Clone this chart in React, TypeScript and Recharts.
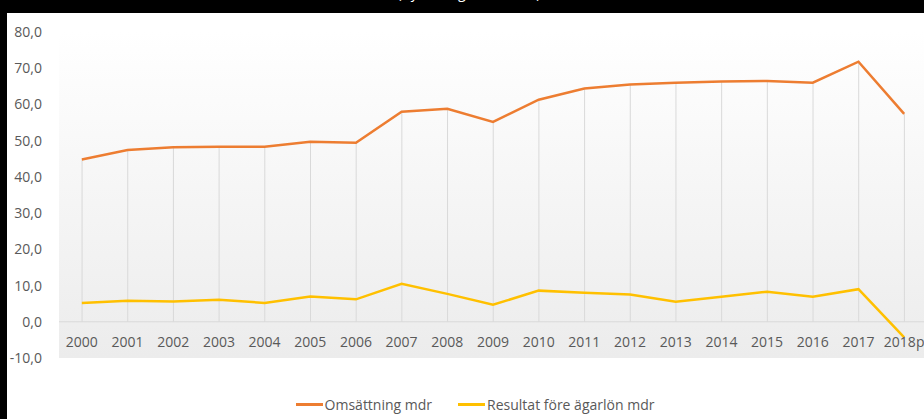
import { ComposedChart, Line, Bar, XAxis, YAxis, Legend, ReferenceLine, CartesianGrid } from "recharts";

const years = ["2000", "2001", "2002", "2003", "2004", "2005", "2006", "2007", "2008", "2009", "2010", "2011", "2012", "2013", "2014", "2015", "2016", "2017", "2018p"];
const omsattning = [44.8, 47.4, 48.2, 48.3, 48.3, 49.7, 49.4, 58.0, 58.8, 55.2, 61.3, 64.4, 65.5, 66.0, 66.3, 66.5, 66.0, 71.8, 57.4];
const resultat = [5.2, 5.8, 5.6, 6.1, 5.2, 7.0, 6.2, 10.5, 7.7, 4.7, 8.6, 8.0, 7.5, 5.5, 6.9, 8.3, 6.9, 9.0, -4.3];
const yTicks = [-10, 0, 10, 20, 30, 40, 50, 60, 70, 80];

const data = years.map((year, i) => ({ year, omsattning: omsattning[i], resultat: resultat[i] }));

const FONT = "'Open Sans', sans-serif";
const GREY = "#595959";

const DropLine = (props: any) => {
  const { x, y, width, height } = props;
  const cx = x + width / 2;
  return <line x1={cx} x2={cx} y1={y} y2={y + height} stroke="#d9d9d9" strokeWidth={1} />;
};

const XTick = (props: any) => {
  const { x, y, payload } = props;
  return (
    <text x={x} y={y - 11.5} textAnchor="middle" fill={GREY} fontSize={14} fontFamily={FONT}>
      {payload.value}
    </text>
  );
};

const LegendContent = (props: any) => {
  const items = (props.payload || []).filter((p: any) => p.type !== "none");
  return (
    <div style={{ display: "flex", justifyContent: "center", paddingLeft: 49, fontFamily: FONT, fontSize: 14, color: GREY }}>
      {items.map((p: any) => (
        <div key={p.value} style={{ display: "flex", alignItems: "center", marginRight: 26 }}>
          <span style={{ display: "inline-block", width: 27, height: 2.5, background: p.color, marginRight: 2 }} />
          <span>{p.value}</span>
        </div>
      ))}
    </div>
  );
};

export default function App() {
  return (
    <div style={{ position: "relative", width: 924, height: 419, background: "#000", overflow: "hidden" }}>
      <style>{`body{margin:0}`}</style>
      <div style={{ position: "absolute", left: 7, top: 13, right: 0, bottom: 0, background: "#fff" }} />
      <svg width={924} height={13} style={{ position: "absolute", left: 0, top: 0 }}>
        <text x={469} y={-2} textAnchor="middle" fill="#fff" fontSize={14} fontFamily={FONT}>
          (Byråns egen statistik)
        </text>
      </svg>
      <div style={{ position: "absolute", left: 0, top: 0 }}>
        <ComposedChart width={924} height={419} data={data} margin={{ top: 32, right: -3, bottom: 0, left: 0 }} barCategoryGap="10%">
          <defs>
            <linearGradient id="plotBg" x1="0" y1="0" x2="0" y2="1">
              <stop offset="0%" stopColor="#ffffff" />
              <stop offset="100%" stopColor="#ececec" />
            </linearGradient>
          </defs>
          <CartesianGrid horizontal={false} vertical={false} fill="url(#plotBg)" />
          <XAxis dataKey="year" axisLine={false} tickLine={false} tickSize={0} tickMargin={0} height={37} interval={0} tick={<XTick />} />
          <YAxis
            width={59}
            domain={[-10, 80]}
            ticks={yTicks}
            axisLine={false}
            tickLine={false}
            tickSize={0}
            tickMargin={17}
            tick={{ fill: GREY, fontSize: 14, fontFamily: FONT }}
            tickFormatter={(v: number) => v.toFixed(1).replace(".", ",")}
          />
          <Bar dataKey="omsattning" legendType="none" shape={<DropLine />} isAnimationActive={false} />
          <ReferenceLine y={0} stroke="#d9d9d9" strokeWidth={1} />
          <Line type="linear" dataKey="omsattning" name="Omsättning mdr" stroke="#ED7D31" strokeWidth={2.5} dot={false} isAnimationActive={false} />
          <Line type="linear" dataKey="resultat" name="Resultat före ägarlön mdr" stroke="#FFC000" strokeWidth={2.5} dot={false} isAnimationActive={false} />
          <Legend verticalAlign="bottom" height={24} content={<LegendContent />} />
        </ComposedChart>
      </div>
    </div>
  );
}
